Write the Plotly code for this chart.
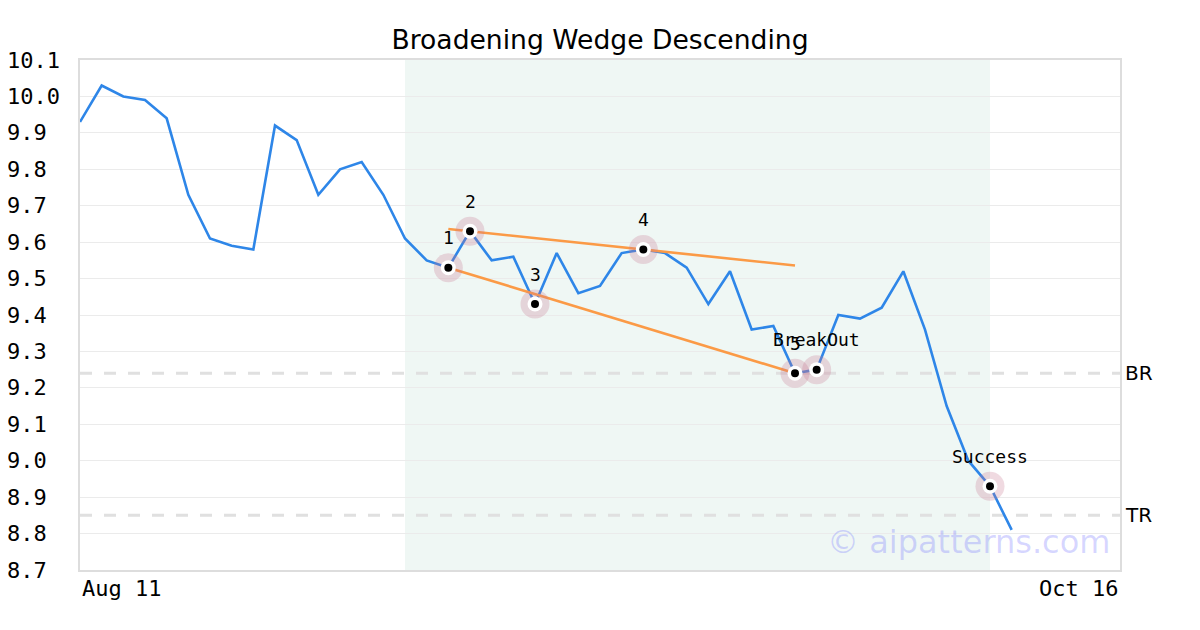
import plotly.graph_objects as go

# ---- data ----
prices = [9.93, 10.03, 10.00, 9.99, 9.94, 9.73, 9.61, 9.59, 9.58, 9.92,
          9.88, 9.73, 9.80, 9.82, 9.73, 9.61, 9.55, 9.53, 9.63, 9.55,
          9.56, 9.43, 9.57, 9.46, 9.48, 9.57, 9.58, 9.57, 9.53, 9.43,
          9.52, 9.36, 9.37, 9.24, 9.25, 9.40, 9.39, 9.42, 9.52, 9.36,
          9.15, 9.00, 8.93, 8.81]
x_idx = list(range(len(prices)))

point_labels = ["1", "2", "3", "4", "5", "BreakOut", "Success"]
point_idx = [17, 18, 21, 26, 33, 34, 42]

upper_line_x = [17, 33]
upper_line_y = [9.636, 9.536]
lower_line_x = [17, 33]
lower_line_y = [9.53, 9.24]

pattern_start, pattern_end = 15, 42
br_level = 9.24
tr_level = 8.85

y_ticks = [8.7, 8.8, 8.9, 9.0, 9.1, 9.2, 9.3, 9.4, 9.5, 9.6, 9.7, 9.8, 9.9, 10.0, 10.1]
x_tick_labels = ["Aug 11", "Oct 16"]
x_range = [0, 48]
y_range = [8.7, 10.1]

title = "Broadening Wedge Descending"
watermark = "© aipatterns.com"

MONO = "DejaVu Sans Mono"
SANS = "DejaVu Sans"

W, H = 1192, 622  # page body has an 8px margin

fig = go.Figure()

fig.add_trace(go.Scatter(x=x_idx, y=prices, mode="lines",
                         line=dict(color="#2e86e8", width=2.6),
                         hoverinfo="skip"))
fig.add_trace(go.Scatter(x=upper_line_x, y=upper_line_y, mode="lines",
                         line=dict(color="#fb9a46", width=2.6), hoverinfo="skip"))
fig.add_trace(go.Scatter(x=lower_line_x, y=lower_line_y, mode="lines",
                         line=dict(color="#fb9a46", width=2.6), hoverinfo="skip"))

px_ = [x_idx[i] for i in point_idx]
py_ = [prices[i] for i in point_idx]
fig.add_trace(go.Scatter(x=px_, y=py_, mode="markers",
                         marker=dict(size=29, color="rgba(200,120,145,0.27)", line=dict(width=0)),
                         hoverinfo="skip"))
fig.add_trace(go.Scatter(x=px_, y=py_, mode="markers",
                         marker=dict(size=15, color="white", line=dict(width=0)),
                         hoverinfo="skip"))
fig.add_trace(go.Scatter(x=px_, y=py_, mode="markers",
                         marker=dict(size=8, color="black", line=dict(width=0)),
                         hoverinfo="skip"))

# shaded pattern region
fig.add_shape(type="rect", xref="x", yref="paper", x0=pattern_start, x1=pattern_end,
              y0=0, y1=1, fillcolor="#eff7f4", line=dict(width=0), layer="below")
# BR / TR dashed lines
for lvl in (br_level, tr_level):
    fig.add_shape(type="line", xref="paper", yref="y", x0=0, x1=1, y0=lvl, y1=lvl,
                  line=dict(color="#e0e0e0", width=3, dash="12px,12px"), layer="below")

annotations = []
for lab, i in zip(point_labels, point_idx):
    annotations.append(dict(x=x_idx[i], y=prices[i], xref="x", yref="y", text=lab,
                            showarrow=False, yshift=30,
                            font=dict(family=MONO, size=18, color="black")))
for lab, lvl in (("BR", br_level), ("TR", tr_level)):
    annotations.append(dict(x=1, y=lvl, xref="paper", yref="y", text=lab,
                            xanchor="left", xshift=3, showarrow=False,
                            font=dict(family=SANS, size=20, color="black")))
for v in y_ticks:
    annotations.append(dict(x=0, y=v, xref="paper", yref="y", text=f"{v:.1f}",
                            xanchor="left", xshift=-75, showarrow=False,
                            font=dict(family=MONO, size=22, color="black")))
annotations.append(dict(x=0, y=0, xref="paper", yref="paper", text=x_tick_labels[0],
                        xanchor="left", yanchor="middle", yshift=-18, showarrow=False,
                        font=dict(family=MONO, size=22, color="black")))
annotations.append(dict(x=1, y=0, xref="paper", yref="paper", text=x_tick_labels[1],
                        xanchor="right", yanchor="middle", yshift=-18, showarrow=False,
                        font=dict(family=MONO, size=22, color="black")))
annotations.append(dict(x=1, y=0, xref="paper", yref="paper", text=watermark,
                        xanchor="right", yanchor="middle", xshift=-8, yshift=28, showarrow=False,
                        font=dict(family=SANS, size=32, color="rgba(110,110,255,0.28)")))

fig.update_layout(
    width=W, height=H,
    margin=dict(l=72, r=80, t=52, b=60),
    paper_bgcolor="white", plot_bgcolor="white",
    showlegend=False,
    title=dict(text=title, x=592 / W, xanchor="center", y=1 - 32 / H, yanchor="middle",
               yref="container", font=dict(family=SANS, size=26.6, color="black")),
    xaxis=dict(range=x_range, showgrid=False, zeroline=False, showticklabels=False,
               ticks="", showline=True, mirror=True, linecolor="#dddddd", linewidth=2),
    yaxis=dict(range=y_range, tickvals=y_ticks, showticklabels=False, ticks="",
               showgrid=True, gridcolor="#ebebeb", gridwidth=1, zeroline=False,
               showline=True, mirror=True, linecolor="#dddddd", linewidth=2),
    annotations=annotations,
)

fig.write_html("out.html")
